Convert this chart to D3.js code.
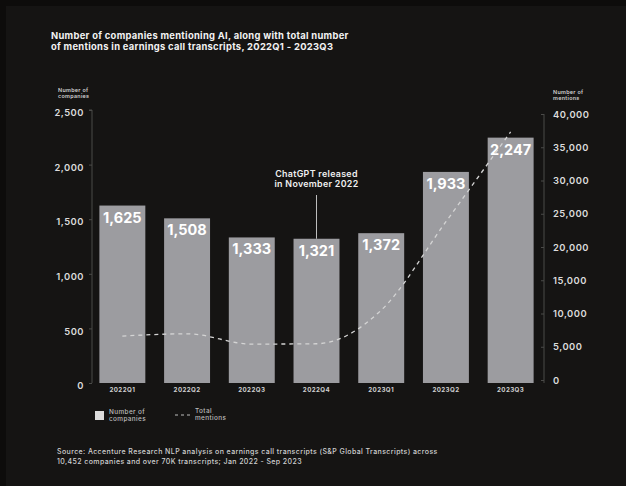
<!DOCTYPE html>
<html>
<head>
<meta charset="utf-8">
<script src="https://cdn.jsdelivr.net/npm/d3@7"></script>
<style>
  html, body { margin: 0; padding: 0; background: #0d0c0b; }
  svg { display: block; font-family: Inter, "Noto Sans", sans-serif; }
</style>
</head>
<body>
<script>
const quarters = ["2022Q1", "2022Q2", "2022Q3", "2022Q4", "2023Q1", "2023Q2", "2023Q3"]
const companies = [1625, 1508, 1333, 1321, 1372, 1933, 2247]
const mentions = [6600, 6950, 5400, 5450, 10500, 23800, 37300]
const leftTicks = [0, 500, 1000, 1500, 2000, 2500]
const rightTicks = [0, 5000, 10000, 15000, 20000, 25000, 30000, 35000, 40000]

const W = 626, H = 486
const fmt = d3.format(",")

const svg = d3.select("body")
              .append("svg")
              .attr("width", W)
              .attr("height", H)

svg.append("rect")
   .attr("x", 6).attr("y", 6)
   .attr("width", W - 6).attr("height", H - 6)
   .attr("fill", "#151413")

// title
const title = svg.append("text")
                 .attr("x", 51)
                 .attr("y", 39)
                 .attr("fill", "#f2f2f2")
                 .style("font-size", "9.4px")
                 .style("font-weight", 700)
                 .style("letter-spacing", "0.3px")
title.append("tspan").attr("x", 51).text("Number of companies mentioning AI, along with total number")
title.append("tspan").attr("x", 51).attr("dy", 11).text("of mentions in earnings call transcripts, 2022Q1 - 2023Q3")

const x = d3.scaleBand()
            .domain(quarters)
            .range([90, 543])
            .paddingInner(0.29)
            .paddingOuter(0.145)

const y = d3.scaleLinear().domain([0, 2500]).range([383, 110])
const y2 = d3.scaleLinear().domain([0, 40000]).range([380, 114])

// left axis
const leftAxis = svg.append("g")
                    .attr("transform", "translate(92,0)")
                    .call(d3.axisLeft(y).tickValues(leftTicks).tickSize(3).tickPadding(5).tickFormat(fmt))
leftAxis.select(".domain").attr("stroke", "#4a4a48").attr("d", `M-3,${y(2500)}H0V${y(0)}`)
leftAxis.selectAll(".tick line").attr("stroke", "#4a4a48")
leftAxis.selectAll(".tick text")
        .attr("fill", "#dcdcdc")
        .attr("dy", "0.6em")
        .style("font-size", "9.4px")
        .style("font-weight", 600)
        .style("letter-spacing", "0.5px")
        .style("font-family", "Inter, sans-serif")

// right axis
const rightAxis = svg.append("g")
                     .attr("transform", "translate(544,0)")
                     .call(d3.axisRight(y2).tickValues(rightTicks).tickSize(0).tickPadding(9).tickFormat(fmt))
rightAxis.select(".domain").attr("stroke", "#4a4a48").attr("d", `M0,${y2(40000)}V${y2(0) + 3}`)
rightAxis.selectAll(".tick")
         .append("line")
         .attr("x1", -3).attr("x2", 0)
         .attr("stroke", "#4a4a48")
rightAxis.selectAll(".tick text")
         .attr("fill", "#dcdcdc")
         .style("font-size", "9.4px")
         .style("font-weight", 600)
         .style("letter-spacing", "0.5px")
         .style("font-family", "Inter, sans-serif")

// axis titles
const lt = svg.append("text").attr("x", 58).attr("y", 92).attr("fill", "#cfcfcf")
              .style("font-size", "5.4px").style("font-weight", 600).style("letter-spacing", "0.3px")
lt.append("tspan").attr("x", 58).text("Number of")
lt.append("tspan").attr("x", 58).attr("dy", 5.5).text("companies")
const rt = svg.append("text").attr("x", 553).attr("y", 94).attr("fill", "#cfcfcf")
              .style("font-size", "5.4px").style("font-weight", 600).style("letter-spacing", "0.3px")
rt.append("tspan").attr("x", 553).text("Number of")
rt.append("tspan").attr("x", 553).attr("dy", 5.5).text("mentions")

// bars
svg.append("g")
   .selectAll("rect")
   .data(companies)
   .enter()
   .append("rect")
   .attr("x", (d, i) => x(quarters[i]))
   .attr("y", d => y(d))
   .attr("width", x.bandwidth())
   .attr("height", d => y(0) - y(d))
   .attr("fill", "#9c9ca0")

svg.append("g")
   .selectAll("text")
   .data(companies)
   .enter()
   .append("text")
   .attr("x", (d, i) => x(quarters[i]) + x.bandwidth() / 2)
   .attr("y", d => y(d) + 17)
   .attr("text-anchor", "middle")
   .attr("fill", "#ffffff")
   .style("font-size", "14.5px")
   .style("font-weight", 700)
   .text(d => fmt(d))

// category labels
svg.append("g")
   .selectAll("text")
   .data(quarters)
   .enter()
   .append("text")
   .attr("x", d => x(d) + x.bandwidth() / 2)
   .attr("y", 392)
   .attr("text-anchor", "middle")
   .attr("fill", "#cfcfcf")
   .style("font-size", "6.2px")
   .style("font-weight", 700)
   .style("letter-spacing", "0.4px")
   .text(d => d)

// mentions line
const line = d3.line()
               .x((d, i) => x(quarters[i]) + x.bandwidth() / 2)
               .y(d => y2(d))
               .curve(d3.curveMonotoneX)

svg.append("path")
   .datum(mentions)
   .attr("d", line)
   .attr("fill", "none")
   .attr("stroke", "#d4d4d4")
   .attr("stroke-width", 1.3)
   .attr("stroke-dasharray", "4,4")

// annotation
const ax = x("2022Q4") + x.bandwidth() / 2
svg.append("line")
   .attr("x1", ax).attr("x2", ax)
   .attr("y1", 195).attr("y2", y(1321))
   .attr("stroke", "#bdbdbd")
   .attr("stroke-width", 1)
const ann = svg.append("text")
               .attr("x", ax)
               .attr("y", 177)
               .attr("text-anchor", "middle")
               .attr("fill", "#f0f0f0")
               .style("font-size", "8.9px")
               .style("font-weight", 600)
               .style("letter-spacing", "0.3px")
ann.append("tspan").attr("x", ax).text("ChatGPT released")
ann.append("tspan").attr("x", ax).attr("dy", 10).text("in November 2022")

// legend
const legend = svg.append("g").attr("id", "legend")
legend.append("rect")
      .attr("x", 95).attr("y", 411)
      .attr("width", 9).attr("height", 9)
      .attr("fill", "#dcdcdc")
const l1 = legend.append("text").attr("x", 109).attr("y", 414).attr("fill", "#bdbdbd")
                 .style("font-size", "6.4px").style("font-weight", 500).style("letter-spacing", "0.4px")
l1.append("tspan").attr("x", 109).text("Number of")
l1.append("tspan").attr("x", 109).attr("dy", 7).text("companies")
legend.append("line")
      .attr("x1", 175).attr("x2", 191)
      .attr("y1", 415).attr("y2", 415)
      .attr("stroke", "#bdbdbd")
      .attr("stroke-width", 1)
      .attr("stroke-dasharray", "3,3")
const l2 = legend.append("text").attr("x", 195).attr("y", 413).attr("fill", "#bdbdbd")
                 .style("font-size", "6.4px").style("font-weight", 500).style("letter-spacing", "0.4px")
l2.append("tspan").attr("x", 195).text("Total")
l2.append("tspan").attr("x", 195).attr("dy", 7).text("mentions")

// source
const src = svg.append("text").attr("x", 57).attr("y", 454).attr("fill", "#d0d0d0")
               .style("font-size", "7px").style("font-weight", 500).style("letter-spacing", "0.4px")
src.append("tspan").attr("x", 57).text("Source: Accenture Research NLP analysis on earnings call transcripts (S&P Global Transcripts) across")
src.append("tspan").attr("x", 57).attr("dy", 10).text("10,452 companies and over 70K transcripts; Jan 2022 - Sep 2023")
</script>
</body>
</html>
